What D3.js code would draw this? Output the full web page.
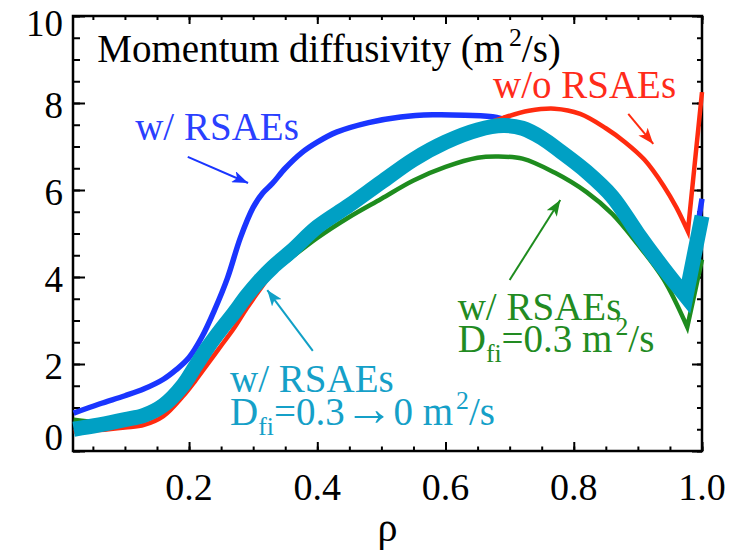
<!DOCTYPE html>
<html><head><meta charset="utf-8">
<script src="https://cdn.jsdelivr.net/npm/d3@7"></script>
<style>body{margin:0;background:#fff} svg{display:block}</style>
</head><body><svg id="c" width="738" height="551"></svg>
<script>
// ---- data ----
const xTickValues = [0.2, 0.4, 0.6, 0.8, 1.0];
const xTickLabels = ["0.2", "0.4", "0.6", "0.8", "1.0"];
const yTickValues = [0, 2, 4, 6, 8, 10];
const yTickLabels = ["0", "2", "4", "6", "8", "10"];

const redRho = [0.02,0.06,0.10,0.13,0.16,0.19,0.21,0.23,0.25,0.27,0.29,0.31,0.33,0.36,0.40,0.45,0.50,0.55,0.60,0.65,0.69,0.73,0.77,0.81,0.85,0.88,0.91,0.94,0.96,0.978,1.0];
const redVal = [0.45,0.48,0.54,0.6,0.8,1.25,1.62,2.02,2.42,2.82,3.28,3.7,4.1,4.6,5.15,5.65,6.15,6.7,7.1,7.45,7.66,7.82,7.87,7.75,7.42,7.1,6.7,6.1,5.6,5.05,8.25];

const blueRho = [0.02,0.06,0.10,0.13,0.16,0.18,0.20,0.22,0.24,0.26,0.28,0.30,0.315,0.33,0.35,0.375,0.40,0.43,0.48,0.53,0.58,0.63,0.68,0.72,0.75,0.78,0.82,0.86,0.90,0.94,0.976,1.0];
const blueVal = [0.87,1.08,1.27,1.43,1.65,1.87,2.15,2.62,3.25,3.98,4.9,5.6,5.93,6.15,6.5,6.85,7.1,7.33,7.55,7.68,7.73,7.72,7.67,7.45,7.2,6.88,6.42,5.85,5.0,4.2,3.55,5.8];

const greenRho = [0.02,0.06,0.10,0.13,0.16,0.19,0.21,0.23,0.25,0.27,0.29,0.31,0.33,0.36,0.40,0.45,0.50,0.55,0.60,0.65,0.68,0.72,0.77,0.82,0.86,0.90,0.94,0.977,1.0];
const greenVal = [0.72,0.66,0.7,0.8,1.05,1.5,1.95,2.4,2.8,3.15,3.52,3.85,4.1,4.45,4.9,5.38,5.8,6.22,6.53,6.74,6.77,6.72,6.4,5.95,5.45,4.75,3.95,2.85,4.4];

const cyanRho = [0.02,0.06,0.10,0.13,0.16,0.19,0.21,0.23,0.25,0.27,0.29,0.31,0.33,0.36,0.40,0.45,0.50,0.55,0.60,0.65,0.69,0.72,0.75,0.78,0.82,0.86,0.90,0.94,0.975,1.0];
const cyanVal = [0.5,0.6,0.72,0.82,1.05,1.5,1.95,2.4,2.8,3.17,3.57,3.92,4.22,4.6,5.15,5.65,6.18,6.7,7.1,7.38,7.48,7.42,7.2,6.88,6.42,5.85,5.0,4.2,3.55,5.4];

// ---- scales ----
const svg = d3.select("#c");
const x = d3.scaleLinear().domain([0.019, 1.0]).range([73, 702]);
const y = d3.scaleLinear().domain([0, 10]).range([451, 16]);
const FONT = "Liberation Serif";

// ---- axes / ticks (inward on all four sides) ----
const xMinor = d3.range(1, 21).map(i => i * 0.05).filter(v => v >= 0.019);
const yMinor = d3.range(0, 21).map(i => i * 0.5);
function tickAxis(gen, tr, vals, size) {
  const g = svg.append("g").attr("transform", tr)
    .call(gen.tickValues(vals).tickSize(size).tickFormat(""));
  g.select(".domain").remove();
  g.selectAll("line").attr("stroke", "#000").attr("stroke-width", 2);
  return g;
}
tickAxis(d3.axisBottom(x), `translate(0,${y(0)})`, xMinor, -4.5);
tickAxis(d3.axisBottom(x), `translate(0,${y(0)})`, xTickValues, -9);
tickAxis(d3.axisTop(x), `translate(0,${y(10)})`, xMinor, -4);
tickAxis(d3.axisTop(x), `translate(0,${y(10)})`, xTickValues, -8);
tickAxis(d3.axisLeft(y), `translate(${x(0.019)},0)`, yMinor, -7);
tickAxis(d3.axisLeft(y), `translate(${x(0.019)},0)`, yTickValues, -12);
tickAxis(d3.axisRight(y), `translate(${x(1.0)},0)`, yMinor, -5);
tickAxis(d3.axisRight(y), `translate(${x(1.0)},0)`, yTickValues, -10);

// tick labels (end labels are pulled inside the frame, as in the reference)
svg.append("g").selectAll("text").data(xTickValues).join("text")
  .attr("x", d => x(d)).attr("y", y(0) + 49)
  .attr("text-anchor", "middle").style("font-family", FONT).style("font-size", "38px")
  .text((d, i) => xTickLabels[i]);
svg.append("g").selectAll("text").data(yTickValues).join("text")
  .attr("x", x(0.019) - 10)
  .attr("y", d => y(d) + (d === 0 ? -13 : d === 10 ? 7.5 : 2.5))
  .attr("dy", "0.33em")
  .attr("text-anchor", "end").style("font-family", FONT).style("font-size", "37px")
  .text((d, i) => yTickLabels[i]);

// frame
svg.append("rect").attr("x", x(0.019)).attr("y", y(10))
  .attr("width", x(1.0) - x(0.019)).attr("height", y(0) - y(10))
  .attr("fill", "none").attr("stroke", "#000").attr("stroke-width", 2.5);

// x-axis title
svg.append("text").attr("x", (x(0.019) + x(1.0)) / 2).attr("y", 541)
  .attr("text-anchor", "middle").style("font-family", FONT).style("font-size", "40px").text("ρ");

// ---- curves ----
function curvePath(rhos, vals) {
  const pts = rhos.map((r, i) => [x(r), y(vals[i])]);
  const k = pts.length - 2; // sharp minimum near the edge
  const smooth = d3.line().curve(d3.curveCatmullRom.alpha(0.5))(pts.slice(0, k + 1));
  const tail = d3.line()(pts.slice(k)).replace(/^M/, "L");
  return smooth + tail;
}
const series = [
  { r: blueRho, v: blueVal, c: "#1a35ff", w: 5.5 },
  { r: redRho, v: redVal, c: "#ff2b0f", w: 4.5 },
  { r: greenRho, v: greenVal, c: "#1e8c1e", w: 4.5 },
  { r: cyanRho, v: cyanVal, c: "#00a0c4", w: 15 }
];
svg.append("g").selectAll("path").data(series).join("path")
  .attr("d", s => curvePath(s.r, s.v))
  .attr("fill", "none").attr("stroke", s => s.c).attr("stroke-width", s => s.w)
  .attr("stroke-linejoin", "miter").attr("stroke-miterlimit", 10);

// ---- annotations ----
const defs = svg.append("defs");
const arrows = [
  { c: "#1a35ff", from: [0.198, 6.76], to: [0.292, 6.16] },
  { c: "#ff2b0f", from: [0.885, 7.75], to: [0.924, 7.06] },
  { c: "#1e8c1e", from: [0.700, 3.93], to: [0.779, 5.77] },
  { c: "#11a0c6", from: [0.393, 2.30], to: [0.322, 3.70] }
];
arrows.forEach((a, i) => {
  defs.append("marker").attr("id", "ah" + i).attr("markerUnits", "userSpaceOnUse")
    .attr("viewBox", "0 0 16 12").attr("markerWidth", 16).attr("markerHeight", 12)
    .attr("refX", 16).attr("refY", 6).attr("orient", "auto")
    .append("path").attr("d", "M0,0 L16,6 L0,12 L4,6 Z").attr("fill", a.c);
  svg.append("line")
    .attr("x1", x(a.from[0])).attr("y1", y(a.from[1]))
    .attr("x2", x(a.to[0])).attr("y2", y(a.to[1]))
    .attr("stroke", a.c).attr("stroke-width", 2).attr("marker-end", `url(#ah${i})`);
});

function richText(px, py, fs, color, segs) {
  const t = svg.append("text").attr("x", px).attr("y", py)
    .style("font-family", FONT).style("font-size", fs + "px").attr("fill", color);
  let cur = 0;
  segs.forEach(s => {
    let shift = 0, size = fs;
    if (s.sup) { shift = -0.42 * fs; size = 0.66 * fs; }
    if (s.sub) { shift = 0.26 * fs; size = 0.66 * fs; }
    if (s.big) size = s.big * fs;
    const ts = t.append("tspan").style("font-size", size + "px").attr("dy", shift - cur).text(s.t);
    if (s.dx) ts.attr("dx", s.dx);
    cur = shift;
  });
  return t;
}
const F = 39;
richText(x(0.057), y(8.94), F, "#000", [{t: "Momentum diffusivity (m"}, {t: "2", sup: true, dx: 5}, {t: "/s)"}]);
richText(x(0.116), y(7.15), F, "#2a40ff", [{t: "w/ RSAEs"}]);
richText(x(0.674), y(8.11), F, "#ff2b1a", [{t: "w/o RSAEs"}]);
richText(x(0.619), y(3.01), F, "#228b22", [{t: "w/ RSAEs"}]);
richText(x(0.619), y(2.28), F, "#228b22", [{t: "D"}, {t: "fi", sub: true}, {t: "=0.3 m"}, {t: "2", sup: true, dx: 3}, {t: "/s"}]);
richText(x(0.264), y(1.36), F, "#15a0c8", [{t: "w/ RSAEs"}]);
richText(x(0.264), y(0.60), F, "#15a0c8", [{t: "D"}, {t: "fi", sub: true}, {t: "=0.3"}, {t: "→", big: 1.25}, {t: "0 m"}, {t: "2", sup: true, dx: 3}, {t: "/s"}]);
</script>
</body></html>
